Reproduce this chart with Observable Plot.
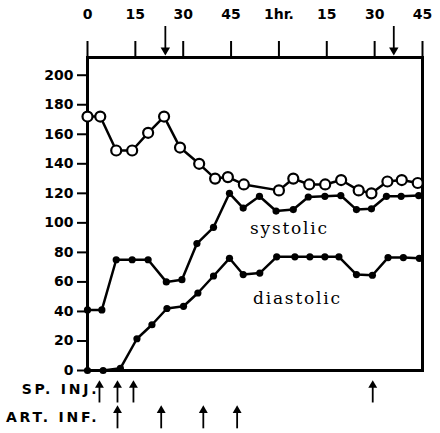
<!DOCTYPE html>
<html><head><meta charset="utf-8">
<script src="https://cdn.jsdelivr.net/npm/d3@7"></script>
<script src="https://cdn.jsdelivr.net/npm/@observablehq/plot@0.6"></script>
<style>
body{margin:0;background:#fff}
</style>
</head><body><div id="chart"></div>
<script>
// Upper series (open circles)
const openT = [0,4,9,14,19,24,29,35,40,44,49,60,64.5,69.5,74.5,79.5,85,89,94,98.5,103.5];
const openV = [172,172,149,149,161,172,151,140,130,131,126,122,130,126,126,129,122,120,128,129,127];
// Systolic (filled)
const sysT = [0,4.5,9,14,19,24.7,29.6,34.3,39.5,44.5,48.8,53.9,59.1,64.5,69.2,74.4,79.4,84.3,89,93.7,98.3,103.8];
const sysV = [41,41,75,75,75,60,61.5,86,97,120,110,118,108,109,117.5,118,118.5,109,109.5,118,118,118.5];
// Diastolic (filled)
const diaT = [0,4.9,10.3,15.5,20.2,24.9,30.1,34.6,39.5,44.5,48.8,54,59.3,65,69.7,74.4,78.8,84.3,89.3,94.2,99,104];
const diaV = [0,0,1.5,21.5,31,42,43.5,52.5,64,76,65,66,77,77,77,77,77,65,64.5,76.5,76.5,76];
// Axes
const topTicks = [0,15,30,45,60,75,90,105];
const topTickLabels = ["0","15","30","45","1hr.","15","30","45"];
const yTicks = [0,20,40,60,80,100,120,140,160,180,200];
// Event markers (minutes)
const spInj = [3.75, 9.4, 14.4, 89.4];
const artInf = [9.4, 23.1, 36.3, 46.9];
const topArrows = [24.4, 96];
const rowLabels = ["SP. INJ.", "ART. INF."];
const seriesLabels = ["systolic", "diastolic"];

const openData = openT.map((t,i)=>({t, v: openV[i]}));
const sysData = sysT.map((t,i)=>({t, v: sysV[i]}));
const diaData = diaT.map((t,i)=>({t, v: diaV[i]}));

const chart = Plot.plot({
  width: 440, height: 433,
  marginLeft: 87, marginRight: 18, marginTop: 57, marginBottom: 63,
  style: {fontFamily: "DejaVu Sans", fontSize: "13px", color: "black", background: "white", overflow: "visible"},
  x: {domain: [0,105], axis: null, label: null},
  y: {domain: [0,212], axis: null, label: null},
  marks: [
    Plot.axisX({anchor: "top", ticks: topTicks, tickSize: 17, tickPadding: 22, strokeWidth: 2, label: null,
      tickFormat: d => topTickLabels[topTicks.indexOf(d)], fontWeight: "bold", fontSize: 14}),
    Plot.axisY({anchor: "left", ticks: yTicks, tickSize: 10, tickPadding: 4, strokeWidth: 2, label: null,
      fontWeight: "bold", fontSize: 14}),
    Plot.frame({strokeWidth: 3}),
    Plot.line(diaData, {x: "t", y: "v", strokeWidth: 2.5}),
    Plot.dot(diaData, {x: "t", y: "v", r: 3.6, fill: "black"}),
    Plot.line(sysData, {x: "t", y: "v", strokeWidth: 2.5}),
    Plot.dot(sysData, {x: "t", y: "v", r: 3.6, fill: "black"}),
    Plot.line(openData, {x: "t", y: "v", strokeWidth: 2.5}),
    Plot.dot(openData, {x: "t", y: "v", r: 5, fill: "white", stroke: "black", strokeWidth: 2.2}),
    Plot.text([seriesLabels[0]], {text: d => d, x: 63.3, y: 96, fontFamily: "DejaVu Serif", fontSize: 17}),
    Plot.text([seriesLabels[1]], {text: d => d, x: 65.8, y: 49, fontFamily: "DejaVu Serif", fontSize: 17}),
    // top arrows
    Plot.ruleX(topArrows, {x: d => d, y1: 215, y2: 233, strokeWidth: 1.8}),
    Plot.dot(topArrows, {x: d => d, y: 217, symbol: "triangle", rotate: 180, r: 3.5, fill: "black"}),
    // SP. INJ. arrows
    Plot.ruleX(spInj, {x: d => d, y1: -9, y2: -22, strokeWidth: 1.8}),
    Plot.dot(spInj, {x: d => d, y: -10, symbol: "triangle", r: 3.3, fill: "black"}),
    // ART. INF. arrows
    Plot.ruleX(artInf, {x: d => d, y1: -26, y2: -39.5, strokeWidth: 1.8}),
    Plot.dot(artInf, {x: d => d, y: -27, symbol: "triangle", r: 3.3, fill: "black"}),
    Plot.text([rowLabels[0]], {text: d => d, frameAnchor: "bottom-left", dx: 12, dy: 23, textAnchor: "end", fontWeight: "bold", fontSize: 14}),
    Plot.text([rowLabels[1]], {text: d => d, frameAnchor: "bottom-left", dx: 12, dy: 51, textAnchor: "end", fontWeight: "bold", fontSize: 14})
  ]
});
d3.select(chart).selectAll("text").filter(function(){ return rowLabels.includes(this.textContent); })
  .style("letter-spacing", "2.8px");
d3.select(chart).selectAll("text").filter(function(){ return seriesLabels.includes(this.textContent); })
  .style("letter-spacing", "1.8px");
document.getElementById("chart").appendChild(chart);
</script>
</body></html>
